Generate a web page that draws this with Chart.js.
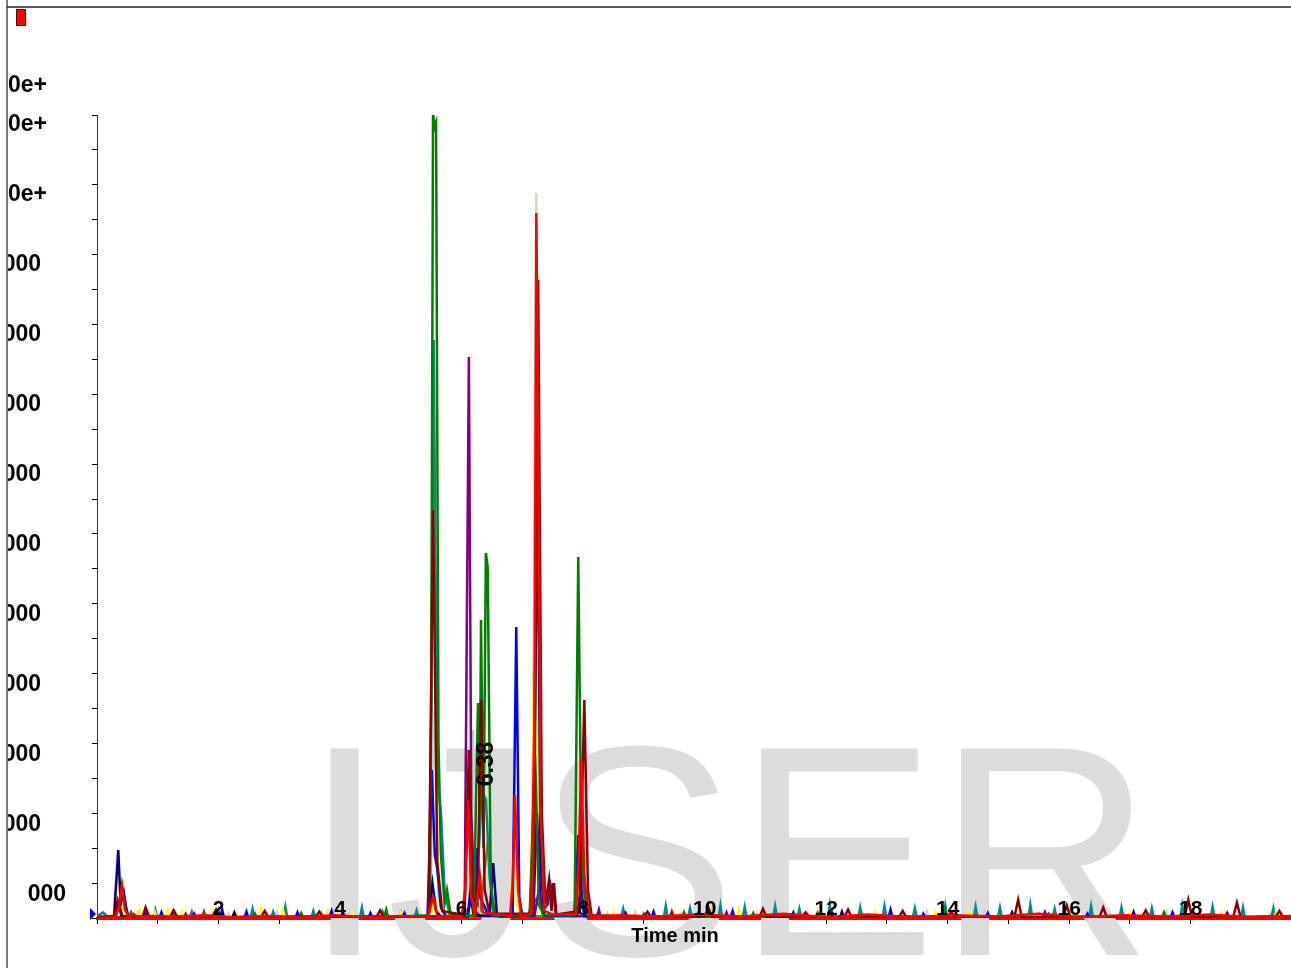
<!DOCTYPE html>
<html>
<head>
<meta charset="utf-8">
<script src="https://cdn.jsdelivr.net/npm/chart.js@4.4.1/dist/chart.umd.min.js"></script>
<style>
  html, body { margin: 0; padding: 0; background: #fff; }
  #wrap { position: relative; width: 1291px; height: 968px; }
</style>
</head>
<body>
<div id="wrap"><canvas id="chrom"></canvas></div>
<script>
// Retention time (min) / intensity pairs
const redData = [[0,0],[0.3,10],[0.36,150],[0.41,471],[0.46,120],[0.52,20],[0.6,60],[0.66,10],[0.9,30],[1.3,20],[1.8,40],[2.2,10],[2.8,30],[3.4,10],[3.9,40],[4.5,10],[5.0,30],[5.45,20],[5.53,300],[5.6,30],[6.0,20],[6.06,400],[6.11,1686],[6.16,300],[6.22,40],[6.3,600],[6.35,80],[6.8,30],[6.84,500],[6.88,1757],[6.93,400],[6.98,20],[7.15,60],[7.2,3000],[7.23,10071],[7.26,7000],[7.3,1500],[7.36,100],[7.5,50],[7.88,60],[7.93,900],[7.97,2257],[8.02,600],[8.08,150],[8.13,20],[8.6,40],[9.2,20],[9.9,50],[10.6,20],[11.3,60],[12.0,10],[12.7,50],[13.4,10],[14.1,40],[14.8,20],[15.5,60],[16.2,10],[16.9,40],[17.6,20],[18.3,50],[19.0,10],[19.65,30]];
const maroonData = [[0,10],[0.28,30],[0.34,250],[0.4,30],[0.75,20],[0.8,150],[0.86,15],[1.2,10],[1.26,110],[1.32,10],[1.9,20],[1.96,120],[2.02,10],[2.7,15],[2.76,100],[2.82,10],[3.6,20],[3.66,90],[3.72,10],[4.6,15],[4.66,110],[4.72,10],[5.46,30],[5.53,5829],[5.6,800],[5.68,100],[6.05,40],[6.12,2400],[6.18,300],[6.26,200],[6.32,3114],[6.38,400],[6.46,60],[7.18,60],[7.26,9114],[7.32,1500],[7.38,200],[7.44,550],[7.48,100],[7.52,500],[7.56,50],[7.94,100],[8.02,3114],[8.08,400],[8.14,40],[9.0,15],[9.06,90],[9.12,10],[10.0,20],[10.06,150],[10.12,10],[10.9,15],[10.96,130],[11.02,10],[11.6,20],[11.66,80],[11.72,10],[12.3,15],[12.36,120],[12.42,10],[13.2,20],[13.26,100],[13.32,10],[14.0,15],[14.06,90],[14.12,10],[15.1,20],[15.16,260],[15.22,10],[15.9,15],[15.96,180],[16.02,10],[16.5,20],[16.56,150],[16.62,10],[17.2,15],[17.26,110],[17.32,10],[17.9,20],[17.96,260],[18.02,10],[18.7,15],[18.76,220],[18.82,10],[19.4,20],[19.46,100],[19.52,10],[19.65,15]];
const greenData = [[0,10],[0.53,15],[0.56,80],[0.59,10],[1.73,15],[1.76,90],[1.79,10],[2.57,10],[2.6,60],[2.63,10],[3.33,15],[3.36,70],[3.39,10],[4.73,20],[4.76,120],[4.79,10],[5.46,40],[5.5,3000],[5.53,11500],[5.56,11300],[5.58,11357],[5.62,2500],[5.66,900],[5.72,200],[5.76,400],[5.82,50],[6.2,30],[6.27,3071],[6.3,1500],[6.32,4257],[6.36,1000],[6.4,5214],[6.43,5000],[6.48,500],[6.54,40],[7.12,40],[7.21,2329],[7.27,300],[7.34,40],[7.86,40],[7.92,5157],[7.97,1200],[8.04,200],[8.1,30],[8.97,10],[9.0,60],[9.03,10],[9.63,20],[9.66,80],[9.69,10],[10.77,10],[10.8,70],[10.83,10],[11.83,15],[11.86,70],[11.89,10],[13.93,20],[13.96,110],[13.99,10],[15.63,15],[15.66,60],[15.69,10],[17.53,20],[17.56,80],[17.59,10],[19.65,15]];
const blueData = [[0,10],[0.3,20],[0.36,200],[0.42,20],[0.77,10],[0.8,70],[0.83,10],[1.03,10],[1.06,80],[1.09,10],[1.57,10],[1.6,60],[1.63,10],[2.03,15],[2.06,120],[2.09,10],[2.43,15],[2.46,90],[2.49,10],[3.27,10],[3.3,80],[3.33,10],[3.83,20],[3.86,100],[3.89,10],[4.47,10],[4.5,70],[4.53,10],[5.03,15],[5.06,70],[5.09,10],[5.44,30],[5.51,2114],[5.56,900],[5.6,700],[5.66,150],[5.74,30],[6.1,30],[6.16,500],[6.22,200],[6.26,1000],[6.3,300],[6.36,200],[6.44,40],[6.84,40],[6.9,4157],[6.95,300],[7.0,30],[7.18,40],[7.24,1500],[7.3,200],[7.36,30],[7.86,30],[7.92,1186],[7.98,300],[8.04,30],[8.67,10],[8.7,70],[8.73,10],[9.13,15],[9.16,90],[9.19,10],[9.87,10],[9.9,80],[9.93,10],[10.43,20],[10.46,100],[10.49,10],[11.43,15],[11.46,80],[11.49,10],[12.07,10],[12.1,70],[12.13,10],[13.03,20],[13.06,120],[13.09,10],[13.57,10],[13.6,60],[13.63,10],[14.63,15],[14.66,70],[14.69,10],[15.57,10],[15.6,80],[15.63,10],[16.27,10],[16.3,60],[16.33,10],[17.03,20],[17.06,90],[17.09,10],[17.67,10],[17.7,80],[17.73,10],[18.57,10],[18.6,70],[18.63,10],[19.65,10]];
const navyData = [[0,10],[0.28,20],[0.35,971],[0.39,200],[0.44,371],[0.5,40],[0.58,10],[2.23,15],[2.26,80],[2.29,10],[5.45,20],[5.52,500],[5.58,100],[5.66,20],[6.1,20],[6.15,300],[6.2,40],[6.46,30],[6.52,786],[6.58,60],[6.64,20],[7.18,40],[7.25,6571],[7.3,800],[7.36,40],[7.9,30],[7.96,400],[8.02,30],[12.23,15],[12.26,90],[12.29,10],[15.03,20],[15.06,80],[15.09,10],[19.65,10]];
const purpleData = [[0,10],[1.43,15],[1.46,60],[1.49,10],[4.03,15],[4.06,60],[4.09,10],[6.05,30],[6.12,8014],[6.16,1500],[6.22,100],[6.3,30],[7.2,30],[7.27,400],[7.33,100],[7.42,200],[7.45,550],[7.48,150],[7.5,500],[7.55,40],[8.23,20],[8.26,120],[8.29,10],[9.43,15],[9.46,90],[9.49,10],[10.33,20],[10.36,80],[10.39,10],[19.65,10]];
const yellowData = [[0,10],[0.3,40],[0.35,686],[0.4,200],[0.46,60],[0.52,15],[0.67,10],[0.7,110],[0.73,10],[0.92,10],[0.95,90],[0.98,10],[1.13,15],[1.16,110],[1.19,10],[1.37,10],[1.4,90],[1.43,10],[1.87,10],[1.9,80],[1.93,10],[2.27,10],[2.3,70],[2.33,10],[2.67,10],[2.7,130],[2.73,10],[3.03,15],[3.06,120],[3.09,10],[3.77,10],[3.8,90],[3.83,10],[4.17,10],[4.2,70],[4.23,10],[4.97,10],[5.0,80],[5.03,10],[5.5,30],[5.56,300],[5.62,40],[6.14,30],[6.2,300],[6.26,60],[6.8,40],[6.86,971],[6.92,150],[6.98,30],[7.14,40],[7.21,4614],[7.26,800],[7.32,60],[7.9,30],[7.96,500],[8.02,40],[8.47,10],[8.5,90],[8.53,10],[9.47,10],[9.5,80],[9.53,10],[10.53,15],[10.56,120],[10.59,10],[10.97,10],[11.0,70],[11.03,10],[11.83,20],[11.86,100],[11.89,10],[12.77,10],[12.8,80],[12.83,10],[13.77,10],[13.8,90],[13.83,10],[14.33,15],[14.36,90],[14.39,10],[15.27,10],[15.3,70],[15.33,10],[16.03,20],[16.06,110],[16.09,10],[16.97,10],[17.0,80],[17.03,10],[17.97,10],[18.0,90],[18.03,10],[18.53,15],[18.56,80],[18.59,10],[19.37,10],[19.4,70],[19.43,10],[19.65,10]];
const tealData = [[0,20],[0.1,80],[0.18,15],[0.47,10],[0.5,90],[0.53,10],[0.93,20],[0.96,120],[0.99,15],[1.23,10],[1.26,80],[1.29,10],[1.53,20],[1.56,90],[1.59,10],[1.97,10],[2.0,100],[2.03,10],[2.53,15],[2.56,130],[2.59,10],[2.87,10],[2.9,90],[2.93,10],[3.07,20],[3.1,160],[3.13,15],[3.53,10],[3.56,100],[3.59,15],[3.77,10],[3.8,80],[3.83,10],[4.33,20],[4.36,150],[4.39,10],[4.67,10],[4.7,90],[4.73,10],[4.97,10],[5.0,80],[5.03,10],[5.23,15],[5.26,110],[5.29,20],[5.48,20],[5.54,8257],[5.6,2000],[5.66,1514],[5.72,400],[5.8,60],[6.2,50],[6.28,900],[6.34,1800],[6.4,1700],[6.46,600],[6.52,100],[6.6,30],[7.1,40],[7.18,300],[7.26,200],[7.35,40],[7.85,40],[7.91,500],[7.96,800],[8.03,200],[8.1,30],[8.63,20],[8.66,130],[8.69,15],[9.33,20],[9.36,170],[9.39,10],[9.73,15],[9.76,140],[9.79,20],[10.23,10],[10.26,180],[10.29,15],[10.63,20],[10.66,160],[10.69,10],[11.13,15],[11.16,170],[11.19,20],[11.53,10],[11.56,130],[11.59,15],[12.03,20],[12.06,190],[12.09,10],[12.53,15],[12.56,150],[12.59,20],[12.93,10],[12.96,170],[12.99,15],[13.43,20],[13.46,140],[13.49,10],[13.93,15],[13.96,180],[13.99,20],[14.43,10],[14.46,160],[14.49,15],[14.83,20],[14.86,150],[14.89,10],[15.33,15],[15.36,190],[15.39,20],[15.73,10],[15.76,130],[15.79,15],[16.33,20],[16.36,170],[16.39,10],[16.83,15],[16.86,150],[16.89,20],[17.33,10],[17.36,140],[17.39,15],[17.83,20],[17.86,180],[17.89,10],[18.33,15],[18.36,160],[18.39,20],[18.83,10],[18.86,150],[18.89,15],[19.33,20],[19.36,140],[19.39,10],[19.65,20]];
const greyData = [[0,10],[0.27,10],[0.3,90],[0.33,10],[0.63,15],[0.66,70],[0.69,10],[1.27,10],[1.3,80],[1.33,10],[2.13,10],[2.16,70],[2.19,10],[2.93,15],[2.96,90],[2.99,10],[3.67,10],[3.7,80],[3.73,10],[4.47,10],[4.5,60],[4.53,10],[5.48,20],[5.56,3000],[5.62,300],[5.7,40],[6.12,30],[6.19,2686],[6.24,300],[6.3,40],[7.16,40],[7.23,10357],[7.28,1000],[7.34,40],[8.37,10],[8.4,70],[8.43,10],[8.83,15],[8.86,80],[8.89,10],[9.57,10],[9.6,70],[9.63,10],[10.83,20],[10.86,70],[10.89,10],[11.67,10],[11.7,80],[11.73,10],[12.57,10],[12.6,70],[12.63,10],[13.63,15],[13.66,90],[13.69,10],[14.57,10],[14.6,80],[14.63,10],[15.47,10],[15.5,70],[15.53,10],[16.63,20],[16.66,60],[16.69,10],[17.57,10],[17.6,80],[17.63,10],[18.47,10],[18.5,70],[18.53,10],[19.27,10],[19.3,60],[19.33,10],[19.65,10]];
const oliveData = [[0,10],[6.3,20],[6.38,700],[6.45,1200],[6.5,300],[6.56,20],[7.88,30],[7.97,971],[8.04,200],[8.1,20],[10.03,15],[10.06,100],[10.09,10],[19.65,10]];

// axis labels
const xTickLabels = [2, 4, 6, 8, 10, 12, 14, 16, 18];
const yLabelValues = [330, 1330, 2330, 3330, 4330, 5330, 6330, 7330, 8330, 9330, 10330, 11330, 11890];
const yLabelTexts = ['000', '000', '000', '000', '000', '000', '000', '000', '000', '000', '1.0e+', '1.0e+', '1.0e+'];
const peakLabel = '6.38';
const peakTime = 6.42;
const peakLevel = 2200;

const series = [
  { name: 'red', color: '#ff0000', data: redData },
  { name: 'maroon', color: '#8b0000', data: maroonData },
  { name: 'green', color: '#008000', data: greenData },
  { name: 'blue', color: '#0000ff', data: blueData },
  { name: 'navy', color: '#000080', data: navyData },
  { name: 'purple', color: '#800080', data: purpleData },
  { name: 'yellow', color: '#ffff00', data: yellowData },
  { name: 'teal', color: '#008b8b', data: tealData },
  { name: 'grey', color: '#c4dcc4', data: greyData },
  { name: 'olive', color: '#808000', data: oliveData }
];

const decor = {
  id: 'decor',
  beforeDraw(chart) {
    const c = chart.ctx;
    c.save();
    c.fillStyle = '#fff';
    c.fillRect(0, 0, chart.width, chart.height);
    // frame
    c.strokeStyle = '#7a7a7a';
    c.lineWidth = 2;
    c.beginPath(); c.moveTo(7, 0); c.lineTo(7, chart.height); c.stroke();
    c.strokeStyle = '#222';
    c.lineWidth = 1.5;
    c.beginPath(); c.moveTo(7, 7); c.lineTo(chart.width, 7); c.stroke();
    // legend swatch
    c.fillStyle = '#ff0000';
    c.fillRect(16, 9, 10, 17);
    c.strokeStyle = '#600';
    c.lineWidth = 1;
    c.strokeRect(16.5, 9.5, 9, 16);
    c.restore();
  },
  beforeDatasetsDraw(chart) {
    const c = chart.ctx;
    c.save();
    c.fillStyle = '#dcdcdc';
    c.font = '300px "Liberation Sans", Arial, sans-serif';
    c.textAlign = 'center';
    c.textBaseline = 'alphabetic';
    c.fillText('IJSER', 728, 955);
    c.restore();
  },
  afterDraw(chart) {
    const c = chart.ctx;
    const xs = chart.scales.x, ys = chart.scales.y;
    c.save();
    c.fillStyle = '#000';
    // y labels, left part clipped by frame
    c.save();
    c.beginPath(); c.rect(8, 0, 200, chart.height); c.clip();
    c.font = 'bold 23px "Liberation Sans", Arial, sans-serif';
    c.textBaseline = 'middle';
    c.textAlign = 'right';
    yLabelValues.forEach((v, i) => {
      const y = ys.getPixelForValue(v);
      const right = i === 0 ? 66 : (i >= 10 ? 47 : 41);
      c.fillText(yLabelTexts[i], right, y);
    });
    c.restore();
    // x labels sitting on the axis
    c.font = 'bold 21px "Liberation Sans", Arial, sans-serif';
    c.textAlign = 'center';
    c.textBaseline = 'bottom';
    xTickLabels.forEach(t => {
      c.fillText(String(t), xs.getPixelForValue(t), xs.top + 2);
    });
    // axis title
    c.font = 'bold 20px "Liberation Sans", Arial, sans-serif';
    c.textBaseline = 'middle';
    c.fillText('Time min', 675, 936);
    // peak annotation
    c.save();
    c.translate(xs.getPixelForValue(peakTime), ys.getPixelForValue(peakLevel));
    c.rotate(-Math.PI / 2);
    c.font = 'bold 23px "Liberation Sans", Arial, sans-serif';
    c.textAlign = 'center';
    c.textBaseline = 'middle';
    c.fillText(peakLabel, 0, 0);
    c.restore();
    // start marker
    const x0 = xs.getPixelForValue(0), y0 = ys.getPixelForValue(0);
    c.fillStyle = '#0000ff';
    c.beginPath();
    c.moveTo(x0 - 7, y0 - 10); c.lineTo(x0 - 1, y0 - 4); c.lineTo(x0 - 7, y0 + 2);
    c.closePath(); c.fill();
    c.restore();
  }
};

new Chart(document.getElementById('chrom'), {
  type: 'line',
  data: {
    datasets: series.map(s => ({
      label: s.name,
      data: s.data.map(p => ({ x: p[0], y: p[1] })),
      borderColor: s.color,
      backgroundColor: s.color,
      borderWidth: 2.5,
      pointRadius: 0,
      tension: 0,
      fill: false
    }))
  },
  options: {
    responsive: true,
    maintainAspectRatio: false,
    animation: false,
    layout: { padding: { top: 115, left: 0, right: 0, bottom: 0 } },
    plugins: { legend: { display: false }, tooltip: { enabled: false } },
    scales: {
      x: {
        type: 'linear',
        min: 0,
        max: 19.65,
        ticks: { display: false, stepSize: 1 },
        grid: { drawOnChartArea: false, drawTicks: true, tickLength: 6, color: '#000' },
        border: { color: '#ff0000', width: 3 },
        afterFit: s => { s.height = 50; }
      },
      y: {
        min: 0,
        max: 11470,
        ticks: { display: false, stepSize: 500 },
        grid: { drawOnChartArea: false, drawTicks: true, tickLength: 5, color: '#000' },
        border: { color: '#333', width: 1 },
        afterFit: s => { s.width = 97; }
      }
    }
  },
  plugins: [decor]
});
</script>
</body>
</html>
